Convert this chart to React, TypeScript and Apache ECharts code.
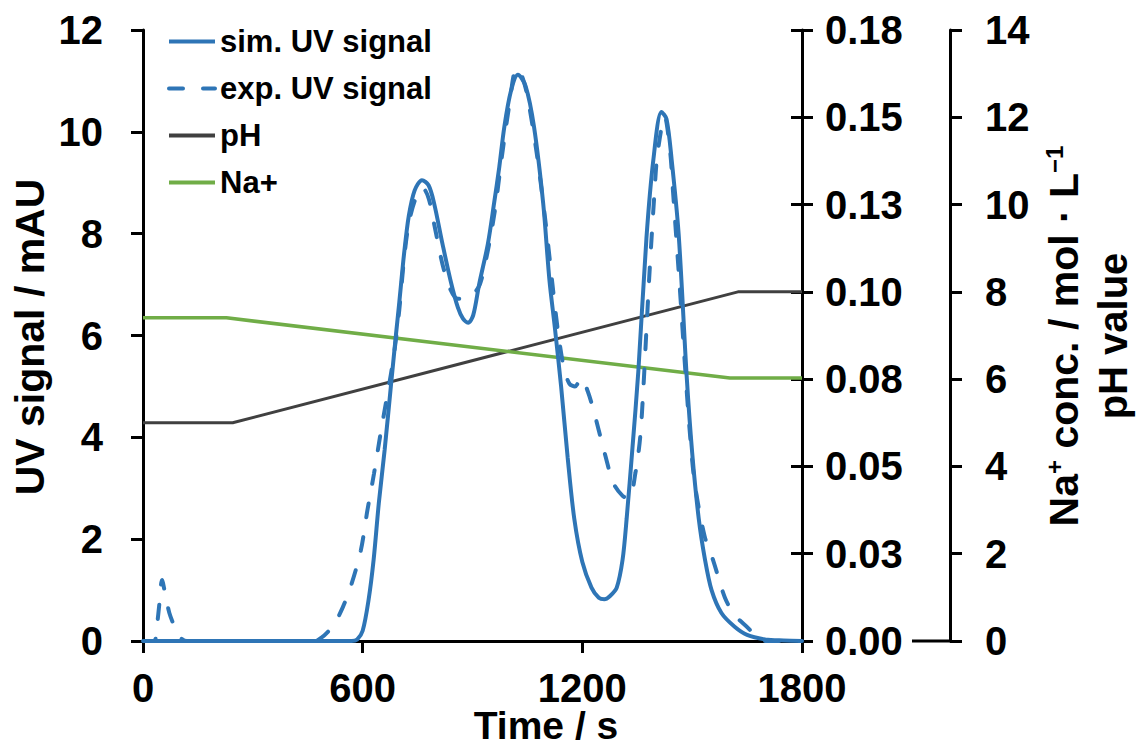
import React, { useEffect, useRef } from "react";
import * as echarts from "echarts";

const FONT = '"Liberation Sans", Arial, Helvetica, sans-serif';
const BLUE = "#2E75B6";
const DARK = "#404040";
const GREEN = "#70AD47";

// Time axis (s)
const timeMin = 0;
const timeMax = 1800;
const timeStep = 600;
// UV axis (mAU)
const uvMax = 12;
const uvStep = 2;
// Na+ axis (mol/L)
const naMax = 0.18;
const naSteps = 7;
// pH axis
const phMax = 14;
const phStep = 2;

const simTime = [0, 100, 300, 500, 570, 585, 600, 616, 630, 644, 660, 677, 690, 700, 713, 726, 742, 762, 780, 795, 818, 841, 860, 874, 888, 902, 918, 942, 959, 973, 987, 1005, 1024, 1045, 1068, 1093, 1110, 1125, 1142, 1160, 1178, 1200, 1225, 1245, 1260, 1275, 1294, 1310, 1321, 1337, 1353, 1375, 1394, 1416, 1430, 1444, 1463, 1485, 1500, 1518, 1535, 1553, 1580, 1616, 1650, 1700, 1750, 1800];
const simUV = [0, 0, 0, 0, 0, 0.03, 0.2, 0.8, 1.6, 2.7, 3.75, 5.0, 5.95, 6.65, 7.6, 8.35, 8.85, 9.05, 8.95, 8.6, 7.8, 7.05, 6.55, 6.33, 6.25, 6.4, 7.0, 7.8, 8.6, 9.3, 10.1, 10.8, 11.12, 10.9, 10.1, 8.6, 7.1, 6.15, 5.0, 3.6, 2.4, 1.55, 1.05, 0.85, 0.82, 0.88, 1.05, 1.6, 2.4, 3.8, 5.3, 7.9, 9.45, 10.39, 10.25, 9.45, 8.0, 5.2, 3.7, 2.4, 1.6, 1.0, 0.55, 0.28, 0.12, 0.03, 0.01, 0];

const expTime = [0, 30, 38, 45, 52, 60, 72, 88, 100, 120, 470, 490, 505, 521, 545, 567, 595, 613, 631, 649, 668, 685, 700, 713, 726, 745, 764, 780, 795, 818, 840, 860, 880, 900, 920, 940, 960, 980, 1000, 1020, 1035, 1050, 1075, 1100, 1120, 1135, 1150, 1165, 1180, 1197, 1215, 1233, 1257, 1285, 1310, 1328, 1345, 1358, 1367, 1375, 1384, 1397, 1405, 1425, 1440, 1447, 1466, 1479, 1493, 1507, 1534, 1558, 1589, 1616, 1655, 1671, 1690, 1800];
const expUV = [0, 0, 0.3, 0.75, 1.2, 0.95, 0.55, 0.25, 0.08, 0, 0, 0.08, 0.18, 0.31, 0.65, 1.06, 1.78, 2.57, 3.29, 4.08, 4.86, 5.6, 6.5, 7.5, 8.2, 8.7, 8.9, 8.7, 8.2, 7.4, 6.9, 6.72, 6.72, 6.8, 7.0, 7.6, 8.4, 9.5, 10.5, 11.25, 11.1, 10.7, 9.6, 8.2, 6.9, 6.0, 5.35, 5.05, 5.0, 5.17, 4.9, 4.47, 3.8, 3.1, 2.85, 2.8, 3.3, 4.0, 5.0, 6.1, 7.3, 8.8, 9.55, 10.3, 9.6, 8.9, 6.96, 5.55, 4.15, 3.1, 2.06, 1.57, 0.86, 0.51, 0.24, 0.1, 0, 0];

const phTime = [0, 245, 1625, 1800];
const phValue = [5, 5, 8, 8];

const naTime = [0, 228, 1603, 1800];
const naConc = [0.0952, 0.0952, 0.0775, 0.0775];

const legendNames = ["sim. UV signal", "exp. UV signal", "pH", "Na+"];

const zip = (xs: number[], ys: number[]) => xs.map((x, i) => [x, ys[i]]);

const labelStyle = {
  fontSize: 40,
  fontWeight: "bold" as const,
  color: "#000",
  fontFamily: FONT,
};

const axisLine = { show: true, onZero: false, lineStyle: { color: "#000", width: 3 } };

export default function App() {
  const ref = useRef<HTMLDivElement>(null);

  useEffect(() => {
    if (!ref.current) return;
    const chart = echarts.init(ref.current, undefined, { renderer: "svg" });

    const option: any = {
      animation: false,
      backgroundColor: "#fff",
      grid: { left: 143, right: 334, top: 30, bottom: 105, containLabel: false },
      legend: {
        data: legendNames,
        orient: "vertical",
        left: 162,
        top: 21,
        itemWidth: 46,
        itemHeight: 14,
        itemGap: 16,
        itemStyle: { opacity: 0 },
        lineStyle: { width: 4 },
        textStyle: { fontSize: 31, fontWeight: "bold", color: "#000", fontFamily: FONT },
      },
      xAxis: {
        type: "value",
        min: timeMin,
        max: timeMax,
        interval: timeStep,
        axisLine,
        axisTick: { show: true, length: 12, lineStyle: { color: "#000", width: 3 } },
        axisLabel: { ...labelStyle, margin: 27, formatter: (v: number) => String(v) },
        splitLine: { show: false },
      },
      yAxis: [
        {
          type: "value",
          position: "left",
          min: 0,
          max: uvMax,
          interval: uvStep,
          axisLine,
          axisTick: { show: true, length: 12, lineStyle: { color: "#000", width: 3 } },
          axisLabel: { ...labelStyle, margin: 40 },
          splitLine: { show: false },
        },
        {
          type: "value",
          position: "right",
          min: 0,
          max: naMax,
          interval: naMax / naSteps,
          axisLine,
          axisTick: { show: true, length: 11, lineStyle: { color: "#000", width: 3 } },
          axisLabel: {
            ...labelStyle,
            margin: 23,
            formatter: (v: number) => v.toFixed(2),
          },
          splitLine: { show: false },
        },
        {
          type: "value",
          position: "right",
          min: 0,
          max: naMax,
          interval: naMax / naSteps,
          axisLine: { show: false, onZero: false },
          axisTick: { show: true, inside: true, length: 11, lineStyle: { color: "#000", width: 3 } },
          axisLabel: { show: false },
          splitLine: { show: false },
        },
        {
          type: "value",
          position: "right",
          offset: 148,
          min: 0,
          max: phMax,
          interval: phStep,
          axisLine,
          axisTick: { show: true, length: 12, lineStyle: { color: "#000", width: 3 } },
          axisLabel: { ...labelStyle, margin: 35 },
          splitLine: { show: false },
        },
      ],
      series: [
        {
          name: "pH",
          type: "line",
          yAxisIndex: 3,
          data: zip(phTime, phValue),
          symbol: "none",
          lineStyle: { color: DARK, width: 3 },
          itemStyle: { color: DARK },
          z: 2,
        },
        {
          name: "Na+",
          type: "line",
          yAxisIndex: 1,
          data: zip(naTime, naConc),
          symbol: "none",
          lineStyle: { color: GREEN, width: 3.5 },
          itemStyle: { color: GREEN },
          z: 2,
        },
        {
          name: "sim. UV signal",
          type: "line",
          yAxisIndex: 0,
          data: zip(simTime, simUV),
          symbol: "none",
          smooth: 0.3,
          lineStyle: { color: BLUE, width: 4 },
          itemStyle: { color: BLUE },
          z: 4,
        },
        {
          name: "exp. UV signal",
          type: "line",
          yAxisIndex: 0,
          data: zip(expTime, expUV),
          symbol: "none",
          smooth: 0.3,
          lineStyle: { color: BLUE, width: 4, type: [14, 20], cap: "round" },
          itemStyle: { color: BLUE },
          z: 3,
        },
      ],
      graphic: [
        {
          type: "line",
          shape: { x1: 912, y1: 641, x2: 950, y2: 641 },
          style: { stroke: "#000", lineWidth: 3 },
        },
        {
          type: "text",
          x: 546,
          y: 725,
          style: {
            text: "Time / s",
            fontSize: 39,
            fontWeight: "bold",
            fontFamily: FONT,
            fill: "#000",
            align: "center",
            verticalAlign: "middle",
          },
        },
        {
          type: "text",
          x: 30,
          y: 337,
          rotation: Math.PI / 2,
          style: {
            text: "UV signal / mAU",
            fontSize: 41,
            fontWeight: "bold",
            fontFamily: FONT,
            fill: "#000",
            align: "center",
            verticalAlign: "middle",
          },
        },
        {
          type: "text",
          x: 1064,
          y: 336,
          rotation: Math.PI / 2,
          style: {
            text: "{n|Na}{s|+}{n| conc. / mol · L}{s|−1}",
            align: "center",
            verticalAlign: "middle",
            fill: "#000",
            rich: {
              n: { fontSize: 41, fontWeight: "bold", fontFamily: FONT, fill: "#000", lineHeight: 44 },
              s: { fontSize: 24, fontWeight: "bold", fontFamily: FONT, fill: "#000", verticalAlign: "top" },
            },
          },
        },
        {
          type: "text",
          x: 1113,
          y: 336,
          rotation: Math.PI / 2,
          style: {
            text: "pH value",
            fontSize: 40,
            fontWeight: "bold",
            fontFamily: FONT,
            fill: "#000",
            align: "center",
            verticalAlign: "middle",
          },
        },
      ],
    };

    chart.setOption(option);
    return () => chart.dispose();
  }, []);

  return (
    <div
      ref={ref}
      style={{ position: "absolute", left: 0, top: 0, width: 1136, height: 746 }}
    />
  );
}
